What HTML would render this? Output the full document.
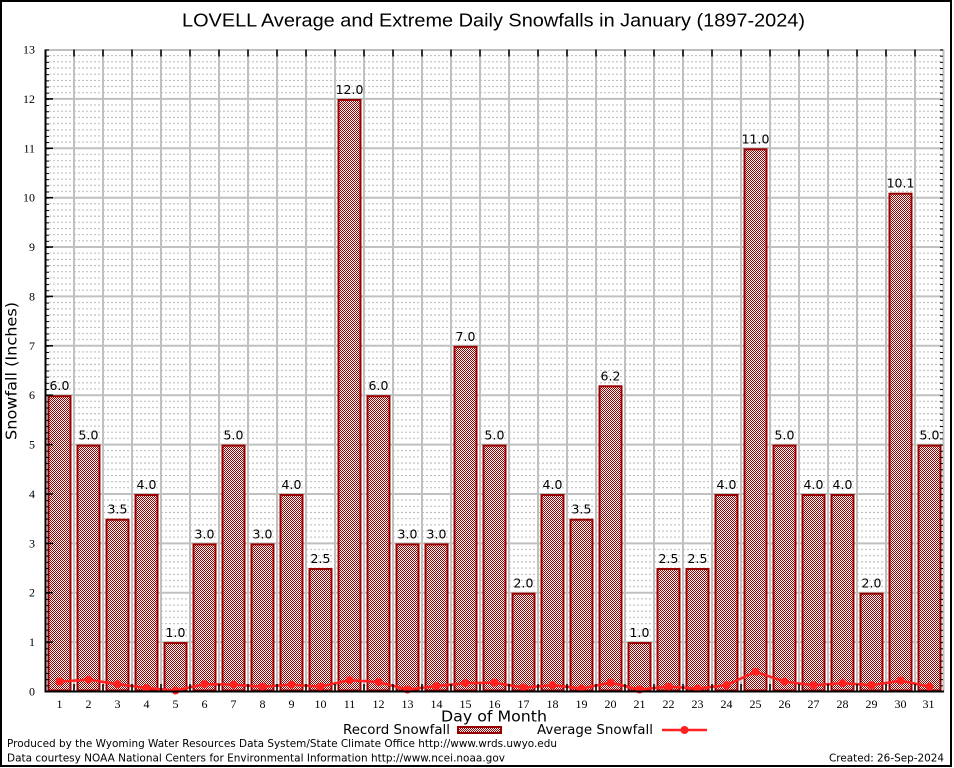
<!DOCTYPE html>
<html><head><meta charset="utf-8">
<style>
html,body{margin:0;padding:0;background:#fff;}
svg{display:block;}
</style></head>
<body>
<svg width="954" height="768" viewBox="0 0 954 768" xmlns="http://www.w3.org/2000/svg">
<defs>
<pattern id="chk" patternUnits="userSpaceOnUse" x="0" y="0" width="2" height="2">
<rect width="2" height="2" fill="#fff" shape-rendering="crispEdges"/>
<rect x="0" y="0" width="1" height="1" fill="#9a0000" shape-rendering="crispEdges"/>
<rect x="1" y="1" width="1" height="1" fill="#9a0000" shape-rendering="crispEdges"/>
</pattern>
<pattern id="minor" patternUnits="userSpaceOnUse" x="45" y="49.5" width="29" height="49.385">
<g stroke="#b8b8b8" stroke-width="1" stroke-dasharray="2,2">
<line x1="0" x2="29" y1="6.17" y2="6.17"/>
<line x1="0" x2="29" y1="12.35" y2="12.35"/>
<line x1="0" x2="29" y1="18.52" y2="18.52"/>
<line x1="0" x2="29" y1="24.69" y2="24.69"/>
<line x1="0" x2="29" y1="30.87" y2="30.87"/>
<line x1="0" x2="29" y1="37.04" y2="37.04"/>
<line x1="0" x2="29" y1="43.21" y2="43.21"/>
</g>
</pattern>
<pattern id="ltick" patternUnits="userSpaceOnUse" x="0" y="49.5" width="10" height="6.173">
<rect x="0" y="0" width="10" height="1" fill="#000"/>
</pattern>
</defs>
<rect x="0" y="0" width="954" height="768" fill="#fff"/>
<rect x="1" y="1" width="950" height="765" fill="none" stroke="#000" stroke-width="2"/>

<text x="493.5" y="26.5" font-family="Liberation Sans, sans-serif" font-size="18" text-anchor="middle" textLength="623" lengthAdjust="spacingAndGlyphs">LOVELL Average and Extreme Daily Snowfalls in January (1897-2024)</text>

<rect x="45" y="49.5" width="899" height="642" fill="url(#minor)"/>

<g stroke="#c0c0c0" stroke-width="2">
<line x1="45" x2="944" y1="642.1" y2="642.1"/>
<line x1="45" x2="944" y1="592.7" y2="592.7"/>
<line x1="45" x2="944" y1="543.4" y2="543.4"/>
<line x1="45" x2="944" y1="494.0" y2="494.0"/>
<line x1="45" x2="944" y1="444.6" y2="444.6"/>
<line x1="45" x2="944" y1="395.2" y2="395.2"/>
<line x1="45" x2="944" y1="345.8" y2="345.8"/>
<line x1="45" x2="944" y1="296.4" y2="296.4"/>
<line x1="45" x2="944" y1="247.0" y2="247.0"/>
<line x1="45" x2="944" y1="197.7" y2="197.7"/>
<line x1="45" x2="944" y1="148.3" y2="148.3"/>
<line x1="45" x2="944" y1="98.9" y2="98.9"/>
<line x1="45" x2="944" y1="50" y2="50"/>
<line x1="74" x2="74" y1="49.5" y2="691.5"/>
<line x1="103" x2="103" y1="49.5" y2="691.5"/>
<line x1="132" x2="132" y1="49.5" y2="691.5"/>
<line x1="161" x2="161" y1="49.5" y2="691.5"/>
<line x1="190" x2="190" y1="49.5" y2="691.5"/>
<line x1="219" x2="219" y1="49.5" y2="691.5"/>
<line x1="248" x2="248" y1="49.5" y2="691.5"/>
<line x1="277" x2="277" y1="49.5" y2="691.5"/>
<line x1="306" x2="306" y1="49.5" y2="691.5"/>
<line x1="335" x2="335" y1="49.5" y2="691.5"/>
<line x1="364" x2="364" y1="49.5" y2="691.5"/>
<line x1="393" x2="393" y1="49.5" y2="691.5"/>
<line x1="422" x2="422" y1="49.5" y2="691.5"/>
<line x1="451" x2="451" y1="49.5" y2="691.5"/>
<line x1="480" x2="480" y1="49.5" y2="691.5"/>
<line x1="509" x2="509" y1="49.5" y2="691.5"/>
<line x1="538" x2="538" y1="49.5" y2="691.5"/>
<line x1="567" x2="567" y1="49.5" y2="691.5"/>
<line x1="596" x2="596" y1="49.5" y2="691.5"/>
<line x1="625" x2="625" y1="49.5" y2="691.5"/>
<line x1="654" x2="654" y1="49.5" y2="691.5"/>
<line x1="683" x2="683" y1="49.5" y2="691.5"/>
<line x1="712" x2="712" y1="49.5" y2="691.5"/>
<line x1="741" x2="741" y1="49.5" y2="691.5"/>
<line x1="770" x2="770" y1="49.5" y2="691.5"/>
<line x1="799" x2="799" y1="49.5" y2="691.5"/>
<line x1="828" x2="828" y1="49.5" y2="691.5"/>
<line x1="857" x2="857" y1="49.5" y2="691.5"/>
<line x1="886" x2="886" y1="49.5" y2="691.5"/>
<line x1="915" x2="915" y1="49.5" y2="691.5"/>
<line x1="943.5" x2="943.5" y1="49.5" y2="691.5"/>
</g>

<g fill="url(#chk)" stroke="#990000" stroke-width="2">
<rect x="48.5" y="396.2" width="22" height="294.3"/>
<rect x="77.5" y="445.6" width="22" height="244.9"/>
<rect x="106.5" y="519.7" width="22" height="170.8"/>
<rect x="135.5" y="495" width="22" height="195.5"/>
<rect x="164.5" y="643.1" width="22" height="47.4"/>
<rect x="193.5" y="544.4" width="22" height="146.1"/>
<rect x="222.5" y="445.6" width="22" height="244.9"/>
<rect x="251.5" y="544.4" width="22" height="146.1"/>
<rect x="280.5" y="495" width="22" height="195.5"/>
<rect x="309.5" y="569" width="22" height="121.5"/>
<rect x="338.5" y="99.9" width="22" height="590.6"/>
<rect x="367.5" y="396.2" width="22" height="294.3"/>
<rect x="396.5" y="544.4" width="22" height="146.1"/>
<rect x="425.5" y="544.4" width="22" height="146.1"/>
<rect x="454.5" y="346.8" width="22" height="343.7"/>
<rect x="483.5" y="445.6" width="22" height="244.9"/>
<rect x="512.5" y="593.7" width="22" height="96.8"/>
<rect x="541.5" y="495" width="22" height="195.5"/>
<rect x="570.5" y="519.7" width="22" height="170.8"/>
<rect x="599.5" y="386.3" width="22" height="304.2"/>
<rect x="628.5" y="643.1" width="22" height="47.4"/>
<rect x="657.5" y="569" width="22" height="121.5"/>
<rect x="686.5" y="569" width="22" height="121.5"/>
<rect x="715.5" y="495" width="22" height="195.5"/>
<rect x="744.5" y="149.3" width="22" height="541.2"/>
<rect x="773.5" y="445.6" width="22" height="244.9"/>
<rect x="802.5" y="495" width="22" height="195.5"/>
<rect x="831.5" y="495" width="22" height="195.5"/>
<rect x="860.5" y="593.7" width="22" height="96.8"/>
<rect x="889.5" y="193.7" width="22" height="496.8"/>
<rect x="918.5" y="445.6" width="22" height="244.9"/>
</g>

<g font-family="DejaVu Sans, sans-serif" font-size="12.5" text-anchor="middle" fill="#000">
<text x="59.5" y="390.2">6.0</text>
<text x="88.5" y="439.6">5.0</text>
<text x="117.5" y="513.7">3.5</text>
<text x="146.5" y="489">4.0</text>
<text x="175.5" y="637.1">1.0</text>
<text x="204.5" y="538.4">3.0</text>
<text x="233.5" y="439.6">5.0</text>
<text x="262.5" y="538.4">3.0</text>
<text x="291.5" y="489">4.0</text>
<text x="320.5" y="563">2.5</text>
<text x="349.5" y="93.9">12.0</text>
<text x="378.5" y="390.2">6.0</text>
<text x="407.5" y="538.4">3.0</text>
<text x="436.5" y="538.4">3.0</text>
<text x="465.5" y="340.8">7.0</text>
<text x="494.5" y="439.6">5.0</text>
<text x="523.5" y="587.7">2.0</text>
<text x="552.5" y="489">4.0</text>
<text x="581.5" y="513.7">3.5</text>
<text x="610.5" y="380.3">6.2</text>
<text x="639.5" y="637.1">1.0</text>
<text x="668.5" y="563">2.5</text>
<text x="697.5" y="563">2.5</text>
<text x="726.5" y="489">4.0</text>
<text x="755.5" y="143.3">11.0</text>
<text x="784.5" y="439.6">5.0</text>
<text x="813.5" y="489">4.0</text>
<text x="842.5" y="489">4.0</text>
<text x="871.5" y="587.7">2.0</text>
<text x="900.5" y="187.7">10.1</text>
<text x="929.5" y="439.6">5.0</text>
</g>

<polyline fill="none" stroke="#ff2020" stroke-width="2.5" stroke-linejoin="round" points="59.5,681.6 88.5,679.6 117.5,684.1 146.5,688 175.5,690.5 204.5,684.1 233.5,684.6 262.5,686.6 291.5,684.6 320.5,686.6 349.5,680.1 378.5,682.1 407.5,689.5 436.5,686.1 465.5,683.1 494.5,682.6 523.5,687.6 552.5,685.1 581.5,688.5 610.5,682.6 639.5,689.5 668.5,686.6 697.5,688.5 726.5,685.1 755.5,671.7 784.5,681.6 813.5,685.3 842.5,683.1 871.5,685.3 900.5,680.6 929.5,686.6"/>
<g fill="#ff2020">
<circle cx="59.5" cy="681.6" r="4"/>
<circle cx="88.5" cy="679.6" r="4"/>
<circle cx="117.5" cy="684.1" r="4"/>
<circle cx="146.5" cy="688" r="4"/>
<circle cx="175.5" cy="690.5" r="4"/>
<circle cx="204.5" cy="684.1" r="4"/>
<circle cx="233.5" cy="684.6" r="4"/>
<circle cx="262.5" cy="686.6" r="4"/>
<circle cx="291.5" cy="684.6" r="4"/>
<circle cx="320.5" cy="686.6" r="4"/>
<circle cx="349.5" cy="680.1" r="4"/>
<circle cx="378.5" cy="682.1" r="4"/>
<circle cx="407.5" cy="689.5" r="4"/>
<circle cx="436.5" cy="686.1" r="4"/>
<circle cx="465.5" cy="683.1" r="4"/>
<circle cx="494.5" cy="682.6" r="4"/>
<circle cx="523.5" cy="687.6" r="4"/>
<circle cx="552.5" cy="685.1" r="4"/>
<circle cx="581.5" cy="688.5" r="4"/>
<circle cx="610.5" cy="682.6" r="4"/>
<circle cx="639.5" cy="689.5" r="4"/>
<circle cx="668.5" cy="686.6" r="4"/>
<circle cx="697.5" cy="688.5" r="4"/>
<circle cx="726.5" cy="685.1" r="4"/>
<circle cx="755.5" cy="671.7" r="4"/>
<circle cx="784.5" cy="681.6" r="4"/>
<circle cx="813.5" cy="685.3" r="4"/>
<circle cx="842.5" cy="683.1" r="4"/>
<circle cx="871.5" cy="685.3" r="4"/>
<circle cx="900.5" cy="680.6" r="4"/>
<circle cx="929.5" cy="686.6" r="4"/>
</g>

<rect x="45" y="49.5" width="4" height="642" fill="url(#ltick)"/>
<rect x="940" y="49.5" width="3" height="642" fill="url(#ltick)"/>

<g stroke="#000" stroke-width="2">
<line x1="45.5" x2="45.5" y1="49.5" y2="692.5"/>
<line x1="44.5" x2="944" y1="691.5" y2="691.5"/>
</g>
<g stroke="#000" stroke-width="1.5">
<line x1="45" x2="53" y1="642.1" y2="642.1"/>
<line x1="45" x2="53" y1="592.7" y2="592.7"/>
<line x1="45" x2="53" y1="543.4" y2="543.4"/>
<line x1="45" x2="53" y1="494.0" y2="494.0"/>
<line x1="45" x2="53" y1="444.6" y2="444.6"/>
<line x1="45" x2="53" y1="395.2" y2="395.2"/>
<line x1="45" x2="53" y1="345.8" y2="345.8"/>
<line x1="45" x2="53" y1="296.4" y2="296.4"/>
<line x1="45" x2="53" y1="247.0" y2="247.0"/>
<line x1="45" x2="53" y1="197.7" y2="197.7"/>
<line x1="45" x2="53" y1="148.3" y2="148.3"/>
<line x1="45" x2="53" y1="98.9" y2="98.9"/>
</g>
<g stroke="#000" stroke-width="1.5">
<path d="M74 49.5v7M103 49.5v7M132 49.5v7M161 49.5v7M190 49.5v7M219 49.5v7M248 49.5v7M277 49.5v7M306 49.5v7M335 49.5v7M364 49.5v7M393 49.5v7M422 49.5v7M451 49.5v7M480 49.5v7M509 49.5v7M538 49.5v7M567 49.5v7M596 49.5v7M625 49.5v7M654 49.5v7M683 49.5v7M712 49.5v7M741 49.5v7M770 49.5v7M799 49.5v7M828 49.5v7M857 49.5v7M886 49.5v7M915 49.5v7"/>
<path d="M74 691v-7M103 691v-7M132 691v-7M161 691v-7M190 691v-7M219 691v-7M248 691v-7M277 691v-7M306 691v-7M335 691v-7M364 691v-7M393 691v-7M422 691v-7M451 691v-7M480 691v-7M509 691v-7M538 691v-7M567 691v-7M596 691v-7M625 691v-7M654 691v-7M683 691v-7M712 691v-7M741 691v-7M770 691v-7M799 691v-7M828 691v-7M857 691v-7M886 691v-7M915 691v-7"/>
</g>

<g font-family="Liberation Serif, serif" font-size="12" text-anchor="end" fill="#000">
<text x="35" y="695.5">0</text>
<text x="35" y="646.1">1</text>
<text x="35" y="596.7">2</text>
<text x="35" y="547.4">3</text>
<text x="35" y="498">4</text>
<text x="35" y="448.6">5</text>
<text x="35" y="399.2">6</text>
<text x="35" y="349.8">7</text>
<text x="35" y="300.4">8</text>
<text x="35" y="251">9</text>
<text x="35" y="201.7">10</text>
<text x="35" y="152.3">11</text>
<text x="35" y="102.9">12</text>
<text x="35" y="53.5">13</text>
</g>

<g font-family="Liberation Serif, serif" font-size="12" text-anchor="middle" fill="#000">
<text x="59.5" y="708">1</text>
<text x="88.5" y="708">2</text>
<text x="117.5" y="708">3</text>
<text x="146.5" y="708">4</text>
<text x="175.5" y="708">5</text>
<text x="204.5" y="708">6</text>
<text x="233.5" y="708">7</text>
<text x="262.5" y="708">8</text>
<text x="291.5" y="708">9</text>
<text x="320.5" y="708">10</text>
<text x="349.5" y="708">11</text>
<text x="378.5" y="708">12</text>
<text x="407.5" y="708">13</text>
<text x="436.5" y="708">14</text>
<text x="465.5" y="708">15</text>
<text x="494.5" y="708">16</text>
<text x="523.5" y="708">17</text>
<text x="552.5" y="708">18</text>
<text x="581.5" y="708">19</text>
<text x="610.5" y="708">20</text>
<text x="639.5" y="708">21</text>
<text x="668.5" y="708">22</text>
<text x="697.5" y="708">23</text>
<text x="726.5" y="708">24</text>
<text x="755.5" y="708">25</text>
<text x="784.5" y="708">26</text>
<text x="813.5" y="708">27</text>
<text x="842.5" y="708">28</text>
<text x="871.5" y="708">29</text>
<text x="900.5" y="708">30</text>
<text x="928.5" y="708">31</text>
</g>

<text x="494" y="721.5" font-family="DejaVu Sans, sans-serif" font-size="15" text-anchor="middle" textLength="106" lengthAdjust="spacingAndGlyphs">Day of Month</text>
<text transform="translate(16.5,371) rotate(-90)" x="0" y="0" font-family="DejaVu Sans, sans-serif" font-size="15" text-anchor="middle" textLength="138" lengthAdjust="spacingAndGlyphs">Snowfall (Inches)</text>

<text x="343" y="734" font-family="DejaVu Sans, sans-serif" font-size="13" textLength="107" lengthAdjust="spacingAndGlyphs">Record Snowfall</text>
<rect x="458" y="727" width="43" height="6" fill="url(#chk)" stroke="#990000" stroke-width="2"/>
<text x="537" y="734" font-family="DejaVu Sans, sans-serif" font-size="13" textLength="116" lengthAdjust="spacingAndGlyphs">Average Snowfall</text>
<line x1="662" x2="707" y1="730" y2="730" stroke="#ff2020" stroke-width="2.5"/>
<circle cx="684.5" cy="730" r="4" fill="#ff2020"/>

<text x="7" y="747" font-family="DejaVu Sans, sans-serif" font-size="11" textLength="550" lengthAdjust="spacingAndGlyphs">Produced by the Wyoming Water Resources Data System/State Climate Office http://www.wrds.uwyo.edu</text>
<text x="7" y="761.5" font-family="DejaVu Sans, sans-serif" font-size="11" textLength="498" lengthAdjust="spacingAndGlyphs">Data courtesy NOAA National Centers for Environmental Information http://www.ncei.noaa.gov</text>
<text x="944" y="761.5" font-family="DejaVu Sans, sans-serif" font-size="11" text-anchor="end" textLength="115" lengthAdjust="spacingAndGlyphs">Created: 26-Sep-2024</text>
</svg>
</body></html>
